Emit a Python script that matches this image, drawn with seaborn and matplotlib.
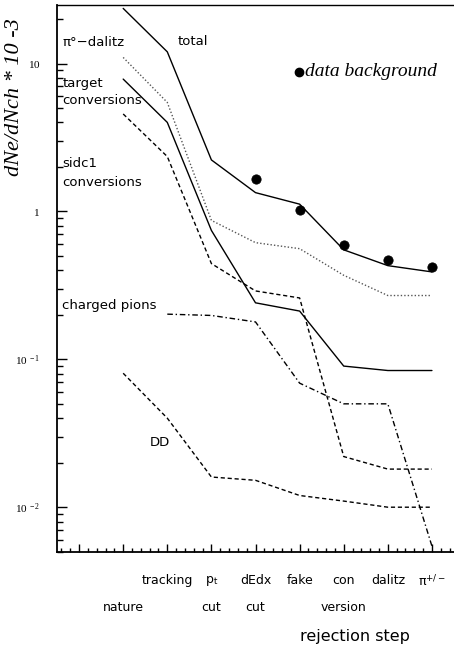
import numpy as np
import matplotlib
matplotlib.use("Agg")
import matplotlib.pyplot as plt
import seaborn as sns
from matplotlib.ticker import FixedLocator, FixedFormatter, NullFormatter, LogLocator, MultipleLocator
from matplotlib.transforms import blended_transform_factory

# rejection steps (x index) and the simulated background components
steps_all = [1, 2, 3, 4, 5, 6, 7, 8]
total = [23.6, 12.0, 2.23, 1.34, 1.12, 0.55, 0.43, 0.39]
pi0_dalitz = [11.0, 5.46, 0.87, 0.615, 0.56, 0.37, 0.27, 0.27]
target_conv = [7.85, 4.0, 0.744, 0.241, 0.212, 0.090, 0.084, 0.084]
sidc1_conv = [4.56, 2.35, 0.444, 0.290, 0.260, 0.022, 0.0181, 0.0181]

steps_pions = [2, 3, 4, 5, 6, 7, 8]
charged_pions = [0.202, 0.198, 0.179, 0.069, 0.050, 0.050, 0.00545]

dd = [0.0805, 0.040, 0.016, 0.0152, 0.012, 0.011, 0.010, 0.010]

steps_data = [4, 5, 6, 7, 8]
data_bg = [1.65, 1.03, 0.596, 0.472, 0.424]

row1_labels = ["tracking", r"p$_\mathregular{t}$", "dEdx", "fake", "con", "dalitz", r"π$^{\mathregular{+/-}}$"]
row1_pos = [2, 3, 4, 5, 6, 7, 8]
row2_labels = ["nature", "cut", "cut", "version"]
row2_pos = [1, 3, 4, 6]

sns.set_style("white")
plt.rcParams["font.family"] = ["DejaVu Sans"]
plt.rcParams["mathtext.fontset"] = "custom"
plt.rcParams["mathtext.it"] = "Liberation Serif:italic"
plt.rcParams["mathtext.rm"] = "Liberation Serif"
plt.rcParams["text.color"] = "black"
plt.rcParams["xtick.color"] = "black"
plt.rcParams["ytick.color"] = "black"

fig = plt.figure(figsize=(4.54, 6.52), dpi=100)
ax = fig.add_axes([0.1256, 0.1538, 0.8744, 0.8390])

sns.lineplot(x=steps_all, y=total, ax=ax, color="black", lw=1.0)
sns.lineplot(x=steps_all, y=pi0_dalitz, ax=ax, color="#555555", lw=1.0, linestyle=(0, (1, 1.5)))
sns.lineplot(x=steps_all, y=target_conv, ax=ax, color="black", lw=1.0)
sns.lineplot(x=steps_all, y=sidc1_conv, ax=ax, color="black", lw=1.0, linestyle=(0, (3, 2)))
sns.lineplot(x=steps_pions, y=charged_pions, ax=ax, color="black", lw=1.0, linestyle=(0, (4, 2, 1, 2)))
sns.lineplot(x=steps_all, y=dd, ax=ax, color="black", lw=1.0, linestyle=(0, (3, 2)))
sns.scatterplot(x=steps_data, y=data_bg, ax=ax, color="black", s=45, edgecolor="black", zorder=5)

ax.set_yscale("log")
ax.set_xlim(-0.5, 8.5)
ax.set_ylim(0.005, 25)

# axes frame: left, bottom and top lines only
for side in ["left", "bottom", "top"]:
    ax.spines[side].set_visible(True)
    ax.spines[side].set_color("black")
ax.spines["left"].set_linewidth(1.3)
ax.spines["bottom"].set_linewidth(1.3)
ax.spines["top"].set_linewidth(1.0)
ax.spines["right"].set_visible(False)

ax.yaxis.set_major_locator(FixedLocator([0.01, 0.1, 1, 10]))
ax.yaxis.set_major_formatter(FixedFormatter([r"$\mathit{10^{\ -2}}$", r"$\mathit{10^{\ -1}}$",
                                             r"$\mathit{1}$", r"$\mathit{10}$"]))
ax.yaxis.set_minor_locator(LogLocator(base=10, subs=np.arange(2, 10), numticks=20))
ax.yaxis.set_minor_formatter(NullFormatter())
ax.xaxis.set_major_locator(MultipleLocator(1))
ax.xaxis.set_minor_locator(MultipleLocator(0.2))
ax.xaxis.set_major_formatter(NullFormatter())
ax.tick_params(axis="y", which="major", direction="in", length=7, width=1, labelsize=8, pad=12,
               left=True, right=False)
ax.tick_params(axis="y", which="minor", direction="in", length=4, width=1, left=True, right=False)
ax.tick_params(axis="x", which="major", direction="in", length=6, width=1, bottom=True, top=False)
ax.tick_params(axis="x", which="minor", direction="in", length=3, width=1, bottom=True, top=False)

# step labels on two rows under the axis
trans = blended_transform_factory(ax.transData, ax.transAxes)
for lab, pos in zip(row1_labels, row1_pos):
    ax.text(pos, -0.053, lab, transform=trans, ha="center", va="center", fontsize=9)
for lab, pos in zip(row2_labels, row2_pos):
    ax.text(pos, -0.102, lab, transform=trans, ha="center", va="center", fontsize=9)
ax.text(6.25, -0.155, "rejection step", transform=trans, ha="center", va="center", fontsize=11.5)

fig.text(15 / 454, 1 - 97 / 652, "dNe/dNch * 10 -3", rotation=90, ha="center", va="center",
         family="Liberation Serif", style="italic", fontsize=16)

# curve labels
ax.text(-0.38, 13.8, "π°−dalitz", fontsize=9.5, va="center")
ax.text(2.23, 14.2, "total", fontsize=9.5, va="center")
ax.text(-0.38, 7.3, "target", fontsize=9.5, va="center")
ax.text(-0.38, 5.6, "conversions", fontsize=9.5, va="center")
ax.text(-0.38, 2.11, "sidc1", fontsize=9.5, va="center")
ax.text(-0.38, 1.57, "conversions", fontsize=9.5, va="center")
ax.text(-0.38, 0.232, "charged pions", fontsize=9.5, va="center")
ax.text(1.60, 0.0273, "DD", fontsize=9.5, va="center")

ax.plot([4.985], [8.8], "o", color="black", ms=6)
ax.text(5.13, 8.8, "data background", family="Liberation Serif", style="italic",
        fontsize=14, va="center")

fig.savefig("out.png", dpi=100)
